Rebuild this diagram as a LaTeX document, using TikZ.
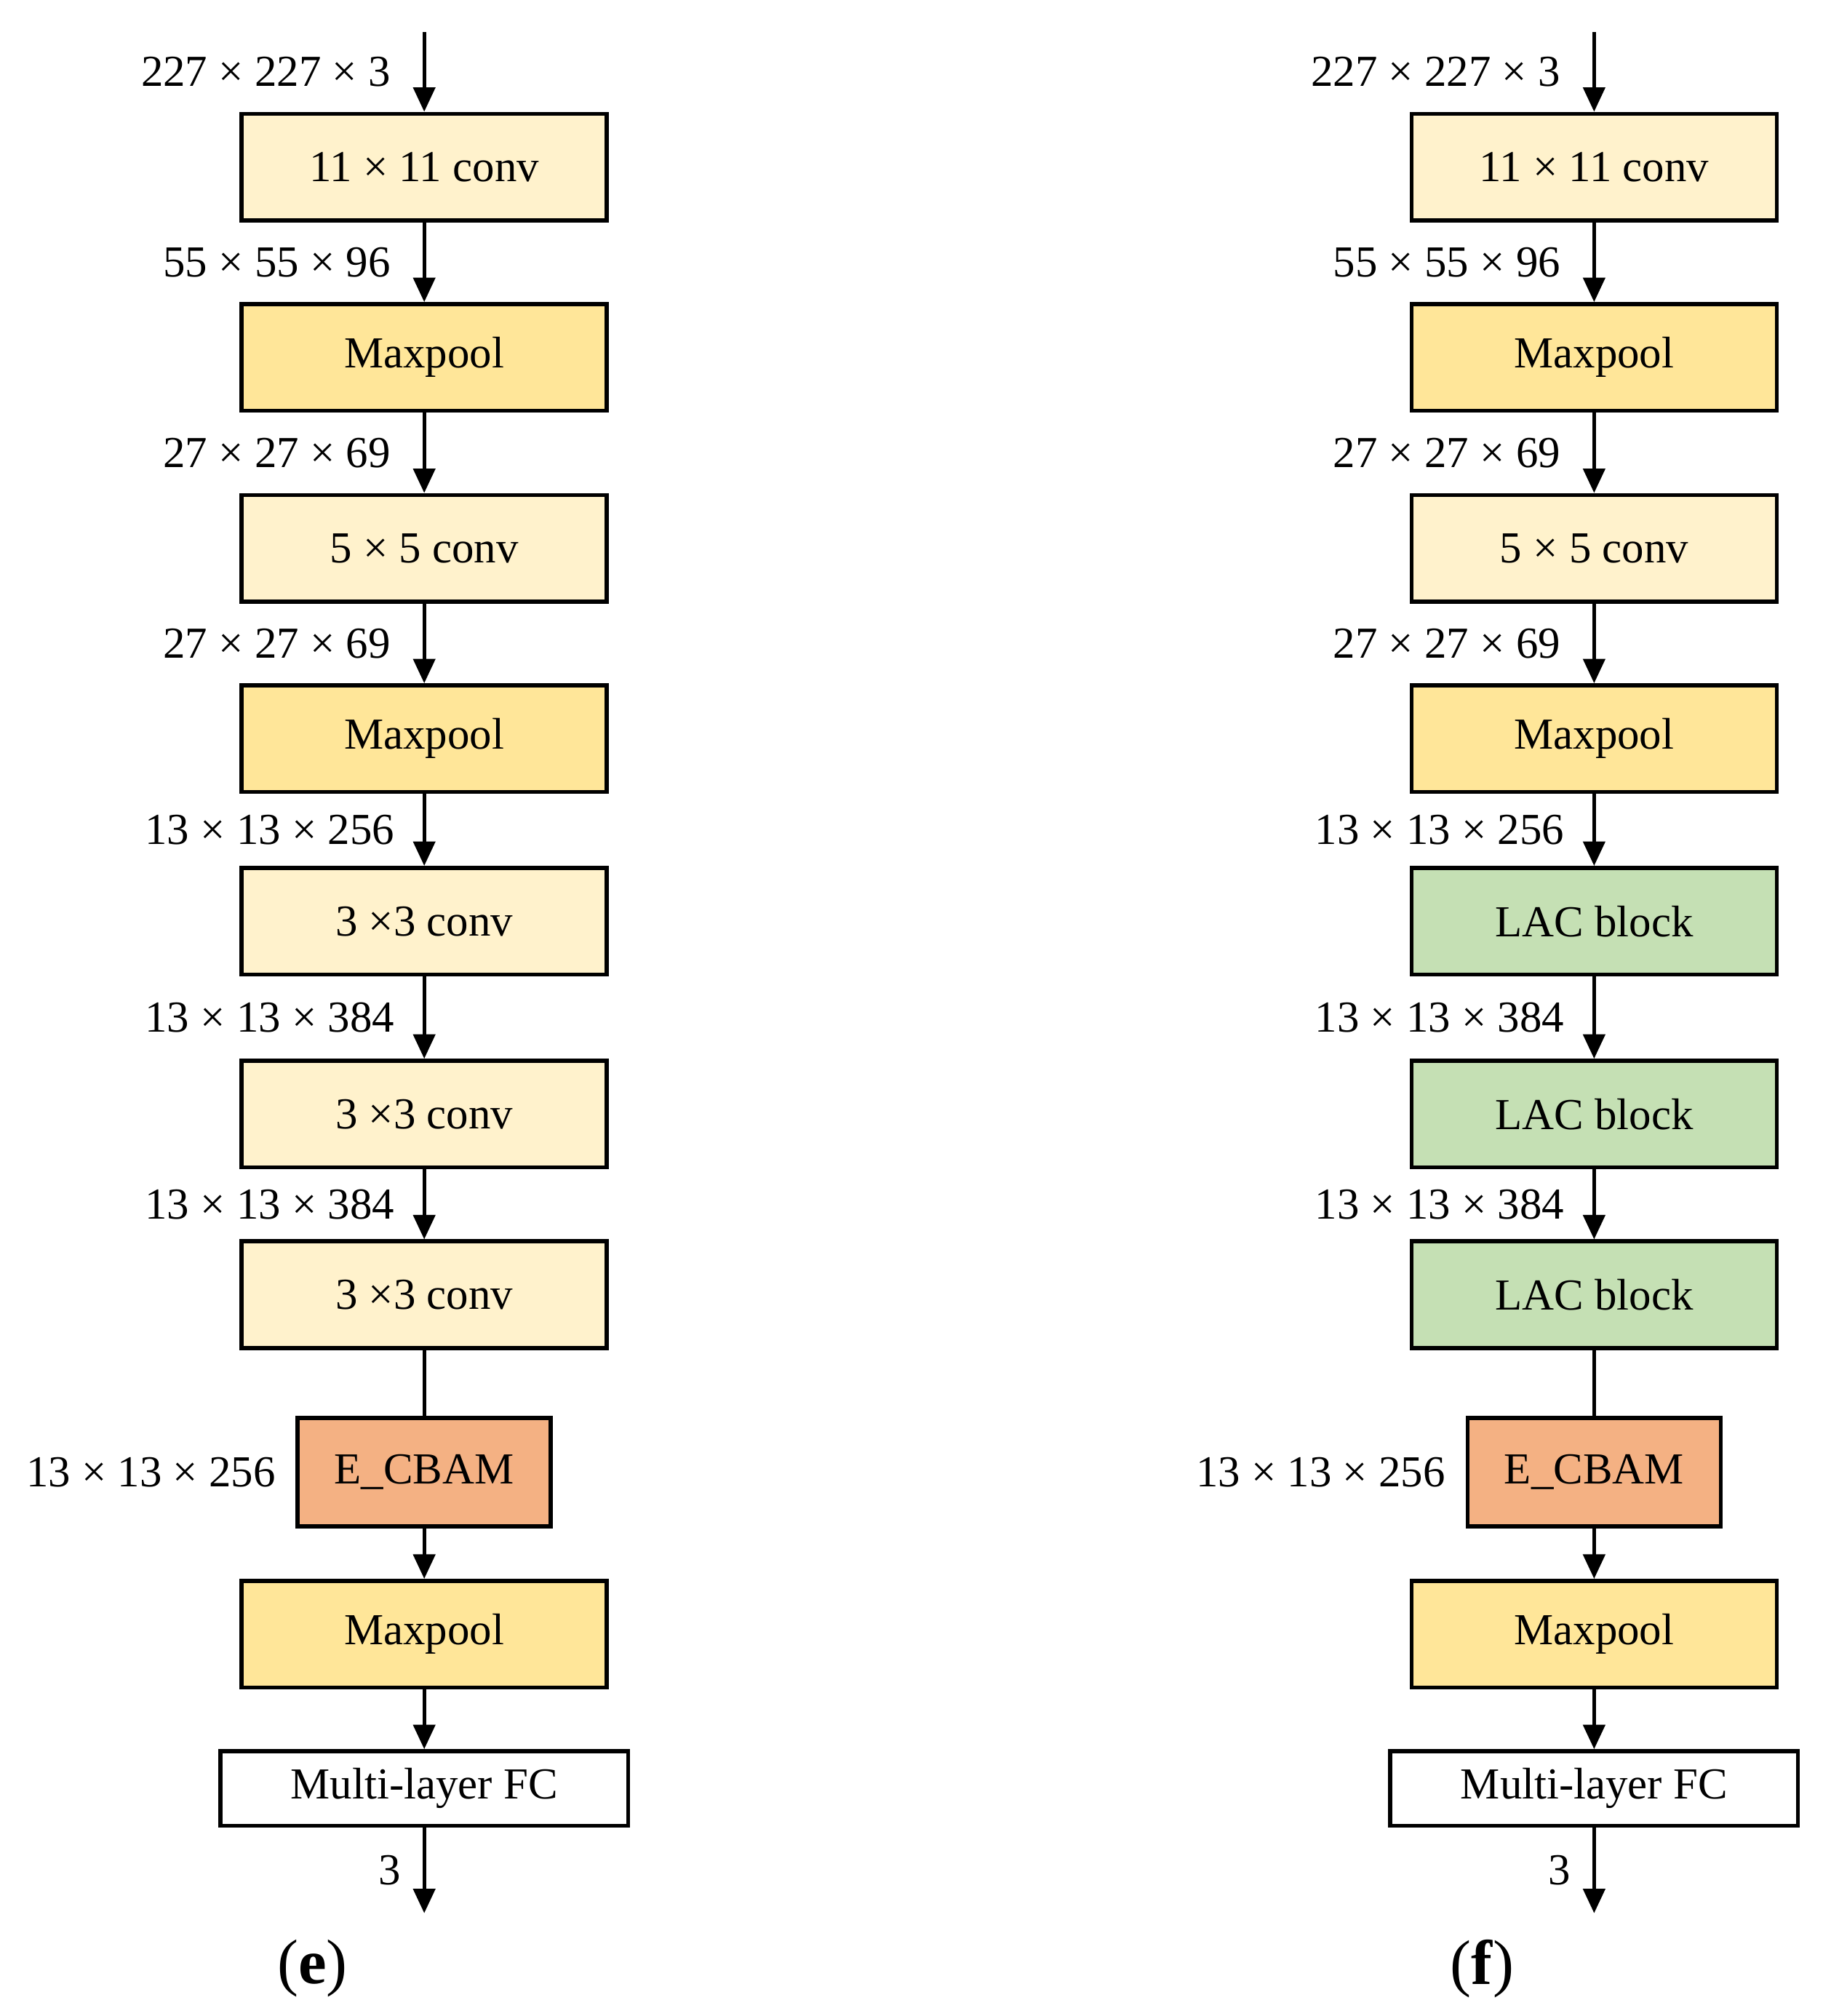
\documentclass[tikz,border=0pt]{standalone}
\usepackage{fontspec}
\setmainfont{Liberation Serif}
\usetikzlibrary{arrows.meta,positioning}

\definecolor{convfill}{HTML}{FFF2CC}
\definecolor{poolfill}{HTML}{FFE699}
\definecolor{cbamfill}{HTML}{F4B183}
\definecolor{lacfill}{HTML}{C5E0B4}

\begin{document}
\begin{tikzpicture}[
  x=1cm,y=1cm,
  >={Triangle[width=0.17cm,length=0.19cm]},
  layer/.style={rectangle, draw=black, line width=0.9pt, minimum width=2.84cm, minimum height=0.83cm, inner sep=0pt, font=\fontsize{9.8}{12}\selectfont},
  conv/.style={layer, fill=convfill},
  pool/.style={layer, fill=poolfill},
  lac/.style={layer, fill=lacfill},
  cbam/.style={layer, fill=cbamfill, minimum width=1.97cm, minimum height=0.84cm},
  fc/.style={layer, fill=white, minimum width=3.17cm, minimum height=0.58cm},
  flow/.style={->, line width=0.75pt},
  dims/.style={font=\fontsize{9.8}{12}\selectfont, inner sep=0pt},
  caption/.style={font=\fontsize{14}{16}\selectfont}
]

\useasboundingbox (0,0) rectangle (14.18,-15.68);

% (e) network with plain conv layers
\coordinate (inE) at (3.30,-0.25);
\node[conv] (c1E) at (3.30,-1.30) {11 × 11 conv};
\node[pool] (p1E) at (3.30,-2.78) {Maxpool};
\node[conv] (c2E) at (3.30,-4.265) {5 × 5 conv};
\node[pool] (p2E) at (3.30,-5.745) {Maxpool};
\node[conv] (c3E) at (3.30,-7.165) {3 ×3 conv};
\node[conv] (c4E) at (3.30,-8.665) {3 ×3 conv};
\node[conv] (c5E) at (3.30,-10.07) {3 ×3 conv};
\node[cbam] (attE) at (3.30,-11.45) {E\_CBAM};
\node[pool] (p3E) at (3.30,-12.71) {Maxpool};
\node[fc] (fcE) at (3.30,-13.91) {Multi-layer FC};
\coordinate (outE) at (3.30,-14.88);

\draw[flow] (inE) -- node[dims, left=0.25cm] {227 × 227 × 3} (c1E);
\draw[flow] (c1E) -- node[dims, left=0.25cm] {55 × 55 × 96} (p1E);
\draw[flow] (p1E) -- node[dims, left=0.25cm] {27 × 27 × 69} (c2E);
\draw[flow] (c2E) -- node[dims, left=0.25cm] {27 × 27 × 69} (p2E);
\draw[flow] (p2E) -- node[dims, left=0.22cm] {13 × 13 × 256} (c3E);
\draw[flow] (c3E) -- node[dims, left=0.22cm] {13 × 13 × 384} (c4E);
\draw[flow] (c4E) -- node[dims, left=0.22cm] {13 × 13 × 384} (c5E);
\draw[line width=0.75pt] (c5E) -- (attE);
\node[dims, left=0.15cm of attE] (dimE) {13 × 13 × 256};
\draw[flow] (attE) -- (p3E);
\draw[flow] (p3E) -- (fcE);
\draw[flow] (fcE) -- node[dims, left=0.17cm] {3} (outE);

\node[caption] (capE) at (2.43,-15.31) {(\textbf{e})};

% (f) network with LAC blocks
\coordinate (inF) at (12.40,-0.25);
\node[conv] (c1F) at (12.40,-1.30) {11 × 11 conv};
\node[pool] (p1F) at (12.40,-2.78) {Maxpool};
\node[conv] (c2F) at (12.40,-4.265) {5 × 5 conv};
\node[pool] (p2F) at (12.40,-5.745) {Maxpool};
\node[lac] (l1F) at (12.40,-7.165) {LAC block};
\node[lac] (l2F) at (12.40,-8.665) {LAC block};
\node[lac] (l3F) at (12.40,-10.07) {LAC block};
\node[cbam] (attF) at (12.40,-11.45) {E\_CBAM};
\node[pool] (p3F) at (12.40,-12.71) {Maxpool};
\node[fc] (fcF) at (12.40,-13.91) {Multi-layer FC};
\coordinate (outF) at (12.40,-14.88);

\draw[flow] (inF) -- node[dims, left=0.25cm] {227 × 227 × 3} (c1F);
\draw[flow] (c1F) -- node[dims, left=0.25cm] {55 × 55 × 96} (p1F);
\draw[flow] (p1F) -- node[dims, left=0.25cm] {27 × 27 × 69} (c2F);
\draw[flow] (c2F) -- node[dims, left=0.25cm] {27 × 27 × 69} (p2F);
\draw[flow] (p2F) -- node[dims, left=0.22cm] {13 × 13 × 256} (l1F);
\draw[flow] (l1F) -- node[dims, left=0.22cm] {13 × 13 × 384} (l2F);
\draw[flow] (l2F) -- node[dims, left=0.22cm] {13 × 13 × 384} (l3F);
\draw[line width=0.75pt] (l3F) -- (attF);
\node[dims, left=0.15cm of attF] (dimF) {13 × 13 × 256};
\draw[flow] (attF) -- (p3F);
\draw[flow] (p3F) -- (fcF);
\draw[flow] (fcF) -- node[dims, left=0.17cm] {3} (outF);

\node[caption] (capF) at (11.53,-15.31) {(\textbf{f})};

\end{tikzpicture}
\end{document}
